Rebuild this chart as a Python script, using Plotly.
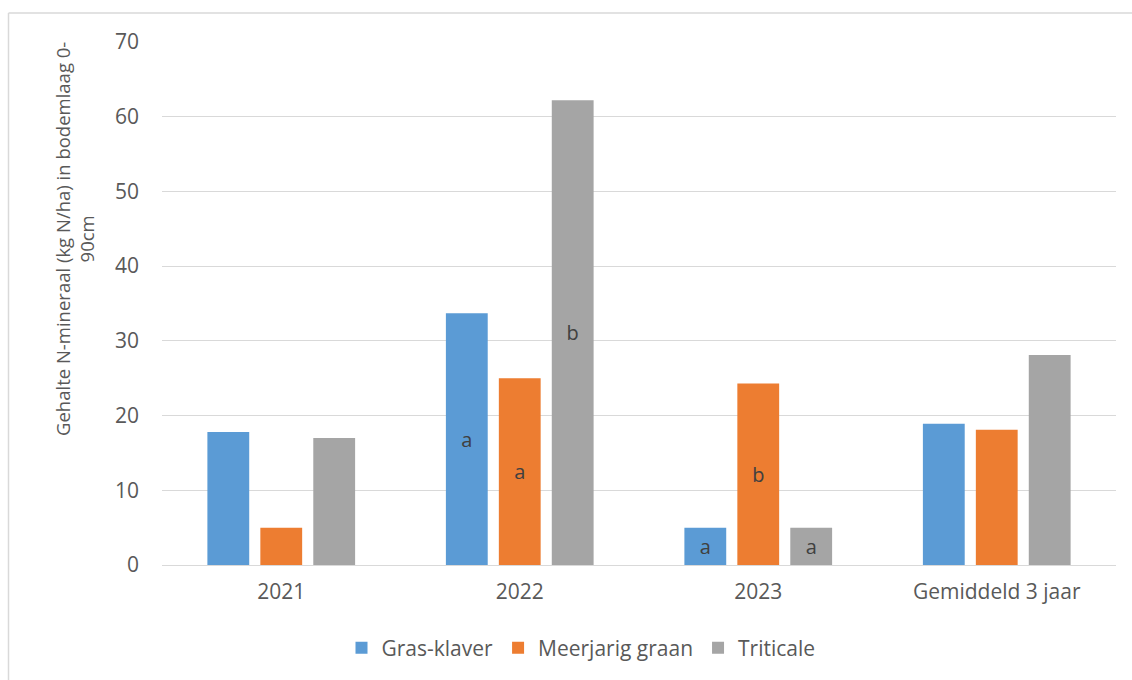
import plotly.graph_objects as go

categories = ["2021", "2022", "2023", "Gemiddeld 3 jaar"]
gras_klaver = [17.8, 33.7, 5.0, 18.9]
meerjarig_graan = [5.0, 25.0, 24.3, 18.1]
triticale = [17.0, 62.2, 5.0, 28.1]
gras_letters = ["", "a", "a", ""]
meer_letters = ["", "a", "b", ""]
trit_letters = ["", "b", "a", ""]
y_ticks = [0, 10, 20, 30, 40, 50, 60, 70]

FONT = "Open Sans"
series = [
    ("Gras-klaver", gras_klaver, gras_letters, "#5B9BD5"),
    ("Meerjarig graan", meerjarig_graan, meer_letters, "#ED7D31"),
    ("Triticale", triticale, trit_letters, "#A5A5A5"),
]

fig = go.Figure()
for name, vals, letters, color in series:
    fig.add_trace(go.Bar(
        name=name, x=categories, y=vals, text=letters,
        marker=dict(color=color, line=dict(width=0)),
        textposition="inside", insidetextanchor="middle",
        textangle=0, constraintext="none",
        textfont=dict(family=FONT, size=20, color="#404040"),
        hoverinfo="x+y+name",
    ))

L, R, T, B = 162, 16, 42, 115
W, H = 1132, 680
pw, ph = W - L - R, H - T - B

def px_x(px):
    return (px - L) / pw

def px_y(py):
    return (H - B - py) / ph

fig.update_layout(
    width=W, height=H,
    margin=dict(l=L, r=R, t=T, b=B),
    paper_bgcolor="white", plot_bgcolor="white",
    barmode="group", bargap=0.334, bargroupgap=0.21,
    font=dict(family=FONT, color="#595959"),
    showlegend=True,
    legend=dict(orientation="h", x=px_x(581), xanchor="center",
                y=px_y(648), yanchor="middle",
                font=dict(family=FONT, size=21, color="#595959"),
                itemwidth=30, traceorder="normal"),
    xaxis=dict(showgrid=False, showline=False, ticks="",
               tickfont=dict(family=FONT, size=21, color="#595959"),
               ticklabelstandoff=12),
    yaxis=dict(range=[0, 70], tickvals=y_ticks, showgrid=True,
               gridcolor="#D9D9D9", gridwidth=1, zeroline=True,
               zerolinecolor="#D9D9D9", zerolinewidth=1, showline=False,
               ticks="", ticklabelstandoff=22,
               tickfont=dict(family=FONT, size=21, color="#595959")),
    annotations=[dict(
        text="Gehalte N-mineraal (kg N/ha) in bodemlaag 0-<br>90cm",
        xref="paper", yref="paper", x=px_x(74), y=px_y(239),
        xanchor="center", yanchor="middle", textangle=-90,
        showarrow=False, align="center",
        font=dict(family=FONT, size=18.5, color="#595959"))],
    shapes=[
        dict(type="line", xref="paper", yref="paper",
             x0=px_x(8.5), x1=px_x(8.5), y0=px_y(13), y1=px_y(700),
             line=dict(color="#D9D9D9", width=1.5)),
        dict(type="line", xref="paper", yref="paper",
             x0=px_x(8.5), x1=px_x(1140), y0=px_y(13), y1=px_y(13),
             line=dict(color="#D9D9D9", width=1.5)),
    ],
)

fig.write_html("out.html")
